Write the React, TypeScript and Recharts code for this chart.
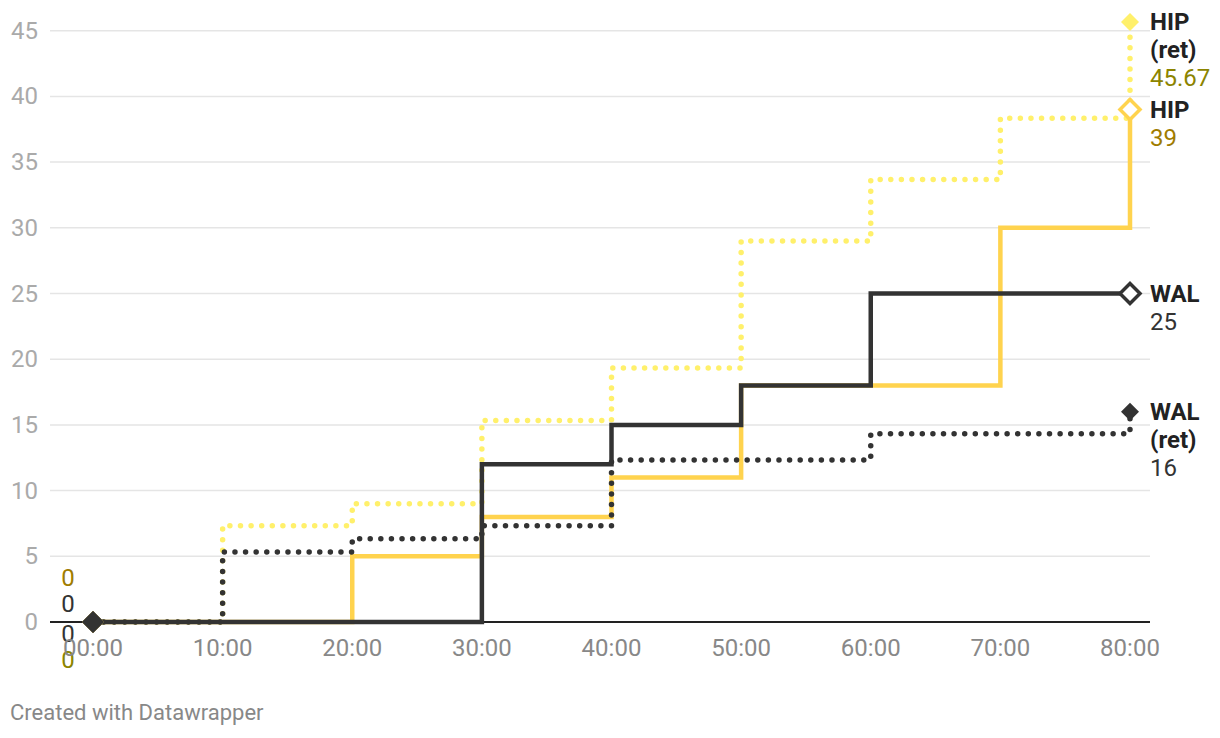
import React from "react";
import {
  LineChart,
  Line,
  XAxis,
  YAxis,
  CartesianGrid,
  ReferenceLine,
} from "recharts";

// minutes since start
const MINUTES = [0, 10, 20, 30, 40, 50, 60, 70, 80];
const HIP = [0, 0, 5, 8, 11, 18, 18, 30, 39];
const HIP_RET = [0, 7.33, 9, 15.33, 19.33, 29, 33.67, 38.33, 45.67];
const WAL = [0, 0, 0, 12, 15, 18, 25, 25, 25];
const WAL_RET = [0, 5.33, 6.33, 7.33, 12.33, 12.33, 14.33, 14.33, 16];
const Y_TICKS = [0, 5, 10, 15, 20, 25, 30, 35, 40, 45];

const FONT = "Roboto, 'Noto Sans', sans-serif";

type Series = {
  key: string;
  name: string;
  sub?: string;
  color: string;
  valueColor: string;
  dotted: boolean;
  hollowEnd: boolean;
  startDy: number;
};

// drawn bottom to top
const SERIES: Series[] = [
  { key: "hipRet", name: "HIP", sub: "(ret)", color: "#fff06b", valueColor: "#8c8400", dotted: true, hollowEnd: false, startDy: 38 },
  { key: "hip", name: "HIP", color: "#ffd34e", valueColor: "#a07c00", dotted: false, hollowEnd: true, startDy: -44 },
  { key: "walRet", name: "WAL", sub: "(ret)", color: "#333333", valueColor: "#333333", dotted: true, hollowEnd: false, startDy: 12 },
  { key: "wal", name: "WAL", color: "#333333", valueColor: "#333333", dotted: false, hollowEnd: true, startDy: -18 },
];

const data = MINUTES.map((m, i) => ({
  m,
  hip: HIP[i],
  hipRet: HIP_RET[i],
  wal: WAL[i],
  walRet: WAL_RET[i],
}));

const last = MINUTES.length - 1;

function diamond(cx: number, cy: number, r: number) {
  return `M${cx},${cy - r}L${cx + r},${cy}L${cx},${cy + r}L${cx - r},${cy}Z`;
}

function fmtTime(m: number) {
  return `${String(m).padStart(2, "0")}:00`;
}

function makeDot(s: Series) {
  return (p: any) => {
    const { cx, cy, index, value } = p;
    const k = `${s.key}-${index}`;
    if (index === 0) {
      return (
        <g key={k}>
          <path d={diamond(cx, cy, 11)} fill={s.color} />
          <text
            x={cx - 25}
            y={cy + s.startDy}
            textAnchor="middle"
            dominantBaseline="central"
            fontSize={24}
            fontFamily={FONT}
            fill={s.valueColor}
          >
            {value}
          </text>
        </g>
      );
    }
    if (index !== last) return <g key={k} />;
    const lines: { t: string; bold: boolean; c: string }[] = [
      { t: s.name, bold: true, c: "#222" },
    ];
    if (s.sub) lines.push({ t: s.sub, bold: true, c: "#222" });
    lines.push({ t: String(value), bold: false, c: s.valueColor });
    return (
      <g key={k}>
        {s.hollowEnd ? (
          <path d={diamond(cx, cy, 10)} fill="#fff" stroke={s.color} strokeWidth={3.5} />
        ) : (
          <path d={diamond(cx, cy, 9)} fill={s.color} />
        )}
        {lines.map((l, i) => (
          <text
            key={i}
            x={cx + 20}
            y={cy + i * 28}
            dominantBaseline="central"
            fontSize={24}
            fontFamily={FONT}
            fontWeight={l.bold ? 700 : 400}
            fill={l.c}
          >
            {l.t}
          </text>
        ))}
      </g>
    );
  };
}

const XTick = (p: any) => (
  <text
    x={p.x}
    y={p.y + 26}
    textAnchor="middle"
    fontSize={24}
    fontFamily={FONT}
    fill="#888"
  >
    {fmtTime(p.payload.value)}
  </text>
);

const YTick = (p: any) => (
  <text
    x={38}
    y={p.y}
    textAnchor="end"
    dominantBaseline="central"
    fontSize={24}
    fontFamily={FONT}
    fill="#aaa"
  >
    {p.payload.value}
  </text>
);

export default function App() {
  return (
    <div style={{ position: "absolute", left: 0, top: 0, width: 1220, height: 738, background: "#fff", fontFamily: FONT }}>
      <LineChart
        width={1220}
        height={738}
        data={data}
        margin={{ top: 11, right: 70, bottom: 86, left: 0 }}
      >
        <CartesianGrid
          vertical={false}
          horizontalValues={Y_TICKS}
          stroke="#e5e5e5"
          strokeWidth={1.5}
        />
        <XAxis
          dataKey="m"
          type="number"
          domain={[0, 80]}
          ticks={MINUTES}
          padding={{ left: 43, right: 20 }}
          height={30}
          axisLine={false}
          tickLine={false}
          tick={<XTick />}
          interval={0}
        />
        <YAxis
          type="number"
          domain={[0, 46.5]}
          ticks={Y_TICKS}
          width={50}
          axisLine={false}
          tickLine={false}
          tick={<YTick />}
          interval={0}
        />
        <ReferenceLine y={0} stroke="#222" strokeWidth={2} />
        {SERIES.map((s) => (
          <Line
            key={s.key}
            type="stepAfter"
            dataKey={s.key}
            stroke={s.color}
            strokeWidth={s.dotted ? 5.5 : 4.5}
            strokeDasharray={s.dotted ? "0 10.6" : undefined}
            strokeLinecap={s.dotted ? "round" : "butt"}
            dot={makeDot(s)}
            activeDot={false}
            isAnimationActive={false}
          />
        ))}
      </LineChart>
      <div style={{ position: "absolute", left: 10, top: 700, fontSize: 22, color: "#888" }}>
        Created with Datawrapper
      </div>
    </div>
  );
}
